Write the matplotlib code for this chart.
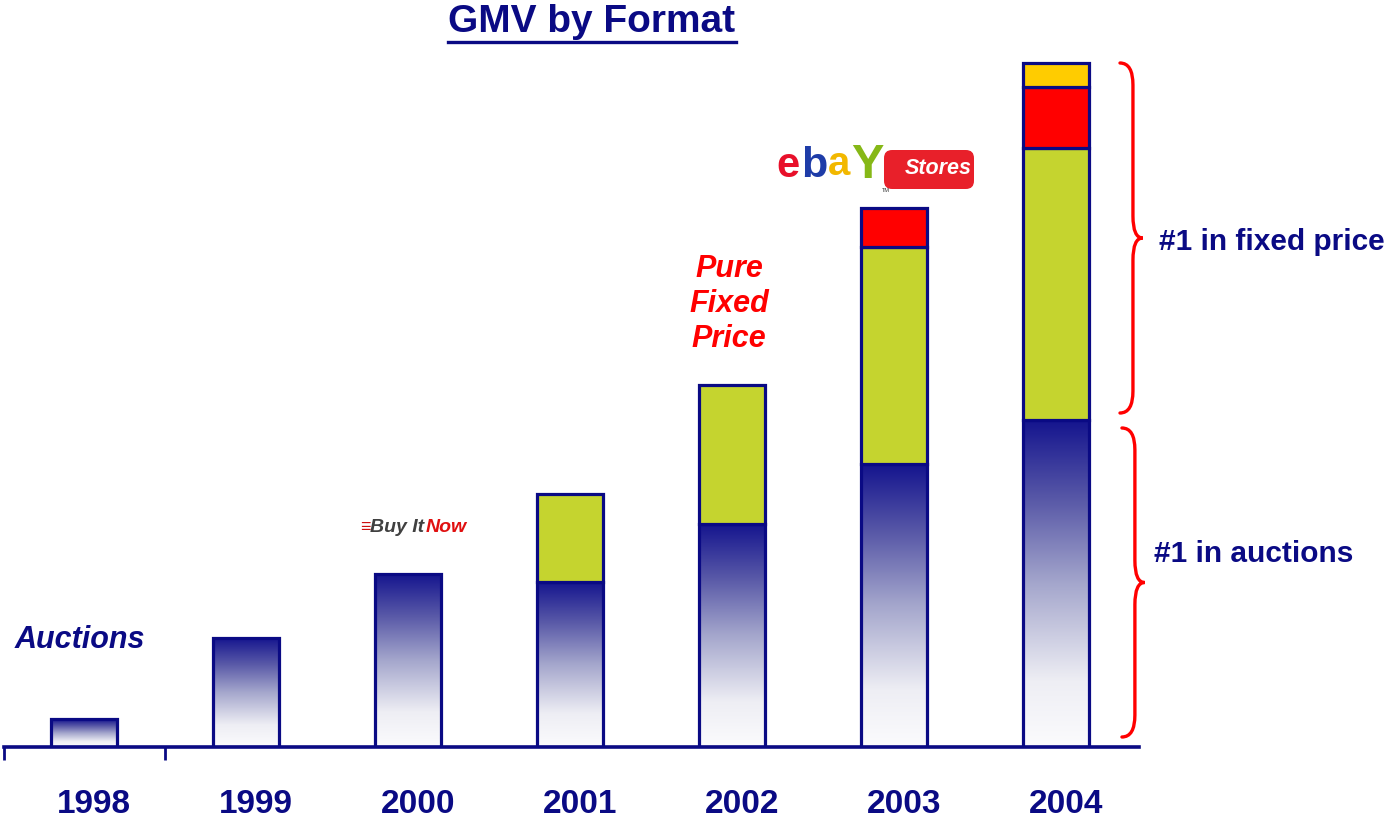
import numpy as np
import matplotlib
matplotlib.use("Agg")
import matplotlib.pyplot as plt
from matplotlib.colors import LinearSegmentedColormap
from matplotlib.path import Path
from matplotlib.patches import PathPatch, FancyBboxPatch
from matplotlib.lines import Line2D

plt.rcParams['font.family'] = ['Liberation Sans', 'DejaVu Sans']

# Data (GMV, arbitrary units)
years = ['1998', '1999', '2000', '2001', '2002', '2003', '2004']
auctions = [2.8, 10.9, 17.3, 16.5, 22.3, 28.3, 32.7]
fixed_price = [0, 0, 0, 8.8, 13.9, 21.7, 27.2]
stores = [0, 0, 0, 0, 0, 3.9, 6.1]
other = [0, 0, 0, 0, 0, 0, 2.4]

NAVY = '#0a0a84'
GREEN = '#c5d42f'
RED = '#ff0000'
YELLOW = '#ffcc00'

W, H = 1395, 822
fig = plt.figure(figsize=(W / 100, H / 100), dpi=100)
fig.patch.set_facecolor('white')

# axes placed so the baseline sits where the original one does
ax = fig.add_axes([4 / W, (H - 747) / H, (1139 - 4) / W, 747 / H])
slot = 162.0
xlim = (-80 / slot, (1139 - 84) / slot)
ylim = (0, 74.7)

x = np.arange(len(years))
bw = 66 / slot
lw = 2.3

# gradient for the auctions part
grad_cmap = LinearSegmentedColormap.from_list(
    'grad', [(0.0, '#fbfbfd'), (0.2, '#eeeef4'), (0.5, '#a4a6cc'),
             (0.75, '#5a5aa8'), (1.0, '#14148e')])
grad = np.linspace(0, 1, 256).reshape(-1, 1)
for xi, h in zip(x, auctions):
    ax.imshow(grad, cmap=grad_cmap, origin='lower', aspect='auto',
              extent=(xi - bw / 2, xi + bw / 2, 0, h), zorder=1, interpolation='bicubic')
ax.bar(x, auctions, bw, color='none', edgecolor=NAVY, linewidth=lw, zorder=2)

bottom = np.array(auctions, dtype=float)
for vals, col in [(fixed_price, GREEN), (stores, RED), (other, YELLOW)]:
    vals = np.array(vals, dtype=float)
    m = vals > 0
    ax.bar(x[m], vals[m], bw, bottom=bottom[m], color=col, edgecolor=NAVY,
           linewidth=lw, zorder=2)
    bottom = bottom + vals
totals = bottom
ax.set_xlim(*xlim)
ax.set_ylim(*ylim)

# axis styling
for s in ['top', 'right', 'left']:
    ax.spines[s].set_visible(False)
ax.spines['bottom'].set_color(NAVY)
ax.spines['bottom'].set_linewidth(2.6)
ax.set_yticks([])
ax.set_xticks(x + 0.06)
ax.set_xticklabels(years, fontsize=24, fontweight='bold', color=NAVY)
ax.tick_params(axis='x', which='major', length=0, pad=30)
ax.set_xticks([-80 / slot, 0.5], minor=True)
ax.tick_params(axis='x', which='minor', length=9, width=2, color=NAVY, direction='out')

# title with underline
title = fig.text(592 / W, 1 - 22 / H, 'GMV by Format', ha='center', va='center',
                 fontsize=28, fontweight='bold', color=NAVY)
fig.canvas.draw()
bb = title.get_window_extent()
fig.add_artist(Line2D([bb.x0 / W, bb.x1 / W], [(H - 42) / H, (H - 42) / H],
                      transform=fig.transFigure, color=NAVY, linewidth=2.4))

# annotations
ax.annotate('Auctions', xy=(x[0], auctions[0]), xytext=(-4, 79), textcoords='offset pixels',
            ha='center', va='center', fontsize=22, fontweight='bold', style='italic',
            color=NAVY, annotation_clip=False)
ax.annotate('Pure\nFixed\nPrice', xy=(x[4], totals[4]), xytext=(-3, 81),
            textcoords='offset pixels', ha='center', va='center', fontsize=22,
            fontweight='bold', style='italic', color=RED, linespacing=1.2,
            annotation_clip=False)

# "Buy It Now" mark
ax.annotate('≡', xy=(x[2], totals[2]), xytext=(-43, 47), textcoords='offset pixels',
            ha='center', va='center', fontsize=13, fontweight='bold', color='#cc1010',
            annotation_clip=False)
ax.annotate('Buy It', xy=(x[2], totals[2]), xytext=(16, 47), textcoords='offset pixels',
            ha='right', va='center', fontsize=14, fontweight='bold', style='italic',
            color='#404040', annotation_clip=False)
ax.annotate('Now', xy=(x[2], totals[2]), xytext=(18, 47), textcoords='offset pixels',
            ha='left', va='center', fontsize=14, fontweight='bold', style='italic',
            color='#e01010', annotation_clip=False)

# eBay Stores mark
logo = [('e', '#e8102a', -106, 31, 30), ('b', '#1e3ca8', -80, 31, 31),
        ('a', '#f2b800', -55, 33, 29), ('Y', '#86b817', -27, 30, 35)]
for ch, col, dx, dy, fs in logo:
    ax.annotate(ch, xy=(x[5], totals[5]), xytext=(dx, dy), textcoords='offset pixels',
                ha='center', va='baseline', fontsize=fs, fontweight='bold', color=col,
                annotation_clip=False)
tag = FancyBboxPatch((x[5] - 10 / slot, totals[5] + 1.9), 90 / slot, 3.9,
                     boxstyle='round,pad=0.0,rounding_size=0.05', facecolor='#e8202a',
                     edgecolor='none', zorder=3, clip_on=False, mutation_aspect=16.2)
ax.add_patch(tag)
ax.annotate('Stores', xy=(x[5], totals[5]), xytext=(44, 39), textcoords='offset pixels',
            ha='center', va='center', fontsize=15.5, fontweight='bold', style='italic',
            color='white', annotation_clip=False, zorder=4)
ax.annotate('TM', xy=(x[5], totals[5]), xytext=(-8, 18), textcoords='offset pixels',
            ha='center', va='center', fontsize=4, color='#333333', annotation_clip=False)


# curly braces
def brace(ax, xb, y0, y1, hook=0.08, tip=0.06, r=2.2, color=RED):
    ym = (y0 + y1) / 2
    verts = [(xb - hook, y1), (xb, y1), (xb, y1 - r),
             (xb, ym + r), (xb, ym), (xb + tip, ym),
             (xb, ym), (xb, ym - r),
             (xb, y0 + r), (xb, y0), (xb - hook, y0)]
    codes = [Path.MOVETO, Path.CURVE3, Path.CURVE3,
             Path.LINETO, Path.CURVE3, Path.CURVE3,
             Path.CURVE3, Path.CURVE3,
             Path.LINETO, Path.CURVE3, Path.CURVE3]
    ax.add_patch(PathPatch(Path(verts, codes), facecolor='none', edgecolor=color,
                           linewidth=2.4, clip_on=False, capstyle='round'))


last = len(years) - 1
brace(ax, last + 0.475, auctions[-1] + 0.7, totals[-1])
brace(ax, last + 0.487, 1.0, auctions[-1] - 0.8)

ax.annotate('#1 in fixed price', xy=(last + 0.475, (auctions[-1] + totals[-1]) / 2),
            xytext=(26, 0), textcoords='offset pixels', ha='left', va='center',
            fontsize=21.5, fontweight='bold', color=NAVY, annotation_clip=False)
ax.annotate('#1 in auctions', xy=(last + 0.487, auctions[-1] / 2),
            xytext=(19, 30), textcoords='offset pixels', ha='left', va='center',
            fontsize=21.5, fontweight='bold', color=NAVY, annotation_clip=False)

fig.savefig('out.png', dpi=100, facecolor='white')
